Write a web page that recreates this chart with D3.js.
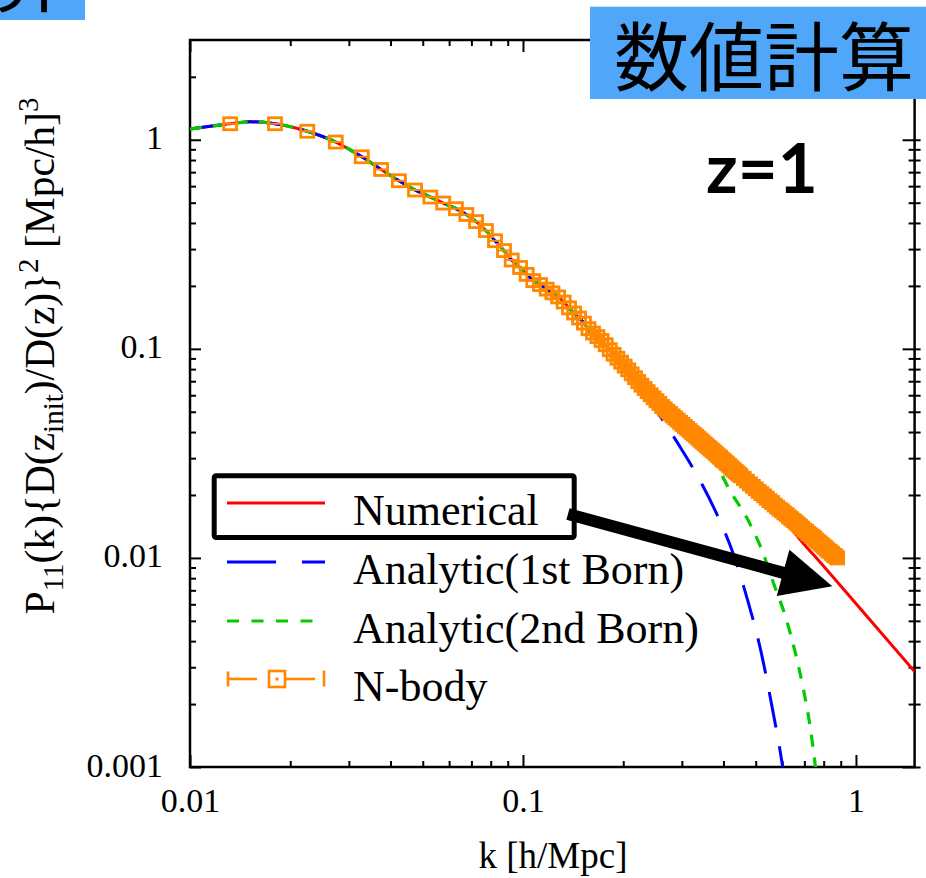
<!DOCTYPE html>
<html>
<head>
<meta charset="utf-8">
<script src="https://cdn.jsdelivr.net/npm/d3@7"></script>
<style>
  html, body { margin: 0; padding: 0; background: #fff; }
  svg { display: block; }
  @font-face {
    font-family: "JP Title";
    src: local("Noto Sans CJK JP Regular"), local("NotoSansCJKjp-Regular"), local("Noto Sans CJK JP");
    ascent-override: 90%;
    descent-override: 12%;
  }
</style>
</head>
<body>
<svg id="chart" width="926" height="878"></svg>
<script>
// ---- data: P11(k){D(z_init)/D(z)}^2 at z = 1 ----

// low-k range where the numerical result and both Born approximations coincide
const lowK = [0.0100, 0.0115, 0.0132, 0.0152, 0.0180, 0.0225, 0.0274, 0.0328, 0.0375, 0.0424,
              0.0474, 0.0527, 0.0576, 0.0629, 0.0676, 0.0723, 0.0774, 0.0824, 0.0877, 0.0925,
              0.0980, 0.1026, 0.1074, 0.1125, 0.1178, 0.1263, 0.1327, 0.1384, 0.1449, 0.1518,
              0.1589, 0.1683, 0.1763, 0.1866, 0.2066];
const lowP = [1.125, 1.160, 1.193, 1.219, 1.193, 1.098, 0.975, 0.829, 0.721, 0.637,
              0.575, 0.532, 0.498, 0.468, 0.439, 0.406, 0.368, 0.329, 0.295, 0.266,
              0.245, 0.227, 0.212, 0.203, 0.193, 0.180, 0.167, 0.155, 0.144, 0.134,
              0.122, 0.1135, 0.1055, 0.0945, 0.0795];

// Numerical
const numericalTailK = [0.2293, 0.2633, 0.3173, 0.3796, 0.4546, 0.5497, 0.7027, 0.7457, 1.028, 1.50];
const numericalTailP = [0.0657, 0.0525, 0.0405, 0.0316, 0.0243, 0.0185, 0.01150, 0.01035, 0.00574, 0.00286];

// Analytic (1st Born)
const born1TailK = [0.2293, 0.2633, 0.2996, 0.3401, 0.3817, 0.4280, 0.4722, 0.5176, 0.5594, 0.6024, 0.6077];
const born1TailP = [0.0622, 0.0455, 0.0330, 0.02344, 0.01625, 0.01046, 0.00632, 0.00361, 0.00195, 0.00100, 0.00091];

// Analytic (2nd Born)
const born2TailK = [0.2293, 0.2633, 0.3173, 0.3817, 0.4183, 0.4696, 0.5209, 0.5645, 0.6192, 0.6559, 0.6946, 0.7252, 0.7557, 0.7609];
const born2TailP = [0.0657, 0.0524, 0.0402, 0.02764, 0.0210, 0.0156, 0.01097, 0.00763, 0.00502, 0.00357, 0.002375, 0.001633, 0.00100, 0.00091];

// N-body
const nbodyK = [0.0132, 0.0180, 0.0225, 0.0274, 0.0328, 0.0375, 0.0424, 0.0474, 0.0527, 0.0576,
  0.0629, 0.0676, 0.0723, 0.0774, 0.0824, 0.0877, 0.0925, 0.0980, 0.1026, 0.1074, 0.1125, 0.1178,
  0.1226, 0.1275, 0.1325, 0.1375, 0.1424, 0.1474, 0.1524, 0.1573, 0.1623, 0.1673,
  0.1722, 0.1772, 0.1822, 0.1871, 0.1921, 0.1971, 0.2020, 0.2070, 0.2120, 0.2170,
  0.2219, 0.2269, 0.2319, 0.2368, 0.2418, 0.2468, 0.2517, 0.2567, 0.2617, 0.2666,
  0.2716, 0.2766, 0.2816, 0.2865, 0.2915, 0.2965, 0.3014, 0.3064,
  0.3113, 0.3163, 0.3213, 0.3263, 0.3312, 0.3362, 0.3411, 0.3461, 0.3511, 0.3561,
  0.3610, 0.3660, 0.3710, 0.3759, 0.3809, 0.3859, 0.3908, 0.3958, 0.4008, 0.4058,
  0.4107, 0.4157, 0.4207, 0.4256, 0.4306, 0.4356, 0.4405, 0.4455, 0.4505,
  0.4604, 0.4704, 0.4803, 0.4902, 0.5002,
  0.5101, 0.5201, 0.5300, 0.5399, 0.5499, 0.5598, 0.5698, 0.5797, 0.5896, 0.5996,
  0.6095, 0.6195, 0.6294, 0.6393, 0.6493, 0.6592, 0.6692, 0.6791, 0.6890, 0.6990,
  0.7089, 0.7189, 0.7288, 0.7387, 0.7487, 0.7586, 0.7686, 0.7785, 0.7884, 0.7984,
  0.8083, 0.8183, 0.8282, 0.8381, 0.8481, 0.8580, 0.8680, 0.8779];
const nbodyP = [1.193, 1.193, 1.098, 0.975, 0.829, 0.721, 0.637, 0.575, 0.532, 0.498,
  0.468, 0.439, 0.406, 0.368, 0.329, 0.295, 0.266, 0.245, 0.227, 0.212, 0.203, 0.193,
  0.1852, 0.1771, 0.1674, 0.1570, 0.1483, 0.1404, 0.1328, 0.1248, 0.1190, 0.1144,
  0.1096, 0.1046, 0.0990, 0.0942, 0.0901, 0.0863, 0.0827, 0.0794, 0.0759, 0.0728,
  0.0698, 0.0670, 0.0646, 0.0624, 0.0603, 0.0583, 0.0565, 0.0548, 0.0530, 0.0516,
  0.0503, 0.0491, 0.0478, 0.0467, 0.0456, 0.0445, 0.0435, 0.0425,
  0.0416, 0.0407, 0.0398, 0.0390, 0.0382, 0.0374, 0.0366, 0.0359, 0.0352, 0.0345,
  0.0338, 0.0332, 0.0326, 0.0320, 0.0314, 0.0308, 0.0303, 0.0297, 0.0292, 0.0287,
  0.0282, 0.0277, 0.0272, 0.0267, 0.0263, 0.0259, 0.0255, 0.0251, 0.0247,
  0.0240, 0.0233, 0.0226, 0.0220, 0.0214,
  0.0208, 0.0203, 0.0198, 0.0193, 0.0188, 0.0184, 0.0179, 0.0175, 0.0171, 0.0168,
  0.0164, 0.0161, 0.0157, 0.0154, 0.0151, 0.0148, 0.0145, 0.0142, 0.0139, 0.0136,
  0.0134, 0.0131, 0.0129, 0.0127, 0.0125, 0.0122, 0.0120, 0.0118, 0.0116, 0.0114,
  0.0112, 0.0110, 0.0108, 0.0107, 0.0105, 0.0103, 0.0102, 0.0100];

// axes
const xMajor = [0.01, 0.1, 1];
const xTickLabels = ["0.01", "0.1", "1"];
const xMinor = [0.02, 0.03, 0.04, 0.05, 0.06, 0.07, 0.08, 0.09, 0.2, 0.3, 0.4, 0.5, 0.6, 0.7, 0.8, 0.9];
const yMajor = [0.001, 0.01, 0.1, 1];
const yTickLabels = ["0.001", "0.01", "0.1", "1"];
const yMinor = [0.002, 0.003, 0.004, 0.005, 0.006, 0.007, 0.008, 0.009,
                0.02, 0.03, 0.04, 0.05, 0.06, 0.07, 0.08, 0.09,
                0.2, 0.3, 0.4, 0.5, 0.6, 0.7, 0.8, 0.9, 2];

const legendLabels = ["Numerical", "Analytic(1st Born)", "Analytic(2nd Born)", "N-body"];

// ---- drawing ----
const SERIF = '"Liberation Serif", "Times New Roman", Times, serif';
const CJK = '"JP Title", "Noto Sans CJK JP", "Noto Sans CJK SC", sans-serif';
const COLORS = { numerical: "#ff0000", born1: "#0000ff", born2: "#00cc00", nbody: "#ff8800" };

const svg = d3.select("#chart");
const plot = { left: 190, right: 914.6, top: 40, bottom: 767 };

const x = d3.scaleLog().domain([0.01, 1.5]).range([plot.left, plot.right]);
const y = d3.scaleLog().domain([0.001, 3]).range([plot.bottom, plot.top]);

svg.append("defs").append("clipPath").attr("id", "plotClip")
  .append("rect")
  .attr("x", plot.left).attr("y", plot.top)
  .attr("width", plot.right - plot.left).attr("height", plot.bottom - plot.top);

function styleAxis(g) {
  g.select(".domain").remove();
  g.selectAll(".tick line").attr("stroke", "#000").attr("stroke-width", 2);
  g.selectAll(".tick text").attr("font-family", SERIF).attr("font-size", 34).attr("fill", "#000");
}

// bottom
svg.append("g").attr("transform", `translate(0,${plot.bottom})`)
  .call(d3.axisBottom(x).tickValues(xMajor).tickSize(-12).tickFormat((d, i) => xTickLabels[i]))
  .call(styleAxis)
  .call(g => g.selectAll(".tick text").attr("y", 45).attr("dy", 0));
svg.append("g").attr("transform", `translate(0,${plot.bottom})`)
  .call(d3.axisBottom(x).tickValues(xMinor).tickSize(-6).tickFormat(""))
  .call(styleAxis);
// top
svg.append("g").attr("transform", `translate(0,${plot.top})`)
  .call(d3.axisTop(x).tickValues(xMajor).tickSize(-12).tickFormat(""))
  .call(styleAxis);
svg.append("g").attr("transform", `translate(0,${plot.top})`)
  .call(d3.axisTop(x).tickValues(xMinor).tickSize(-6).tickFormat(""))
  .call(styleAxis);
// left
svg.append("g").attr("transform", `translate(${plot.left},0)`)
  .call(d3.axisLeft(y).tickValues(yMajor).tickSize(-11).tickPadding(27).tickFormat((d, i) => yTickLabels[i]))
  .call(styleAxis)
  .call(g => g.selectAll(".tick text").attr("dy", 0).attr("y", 9));
svg.append("g").attr("transform", `translate(${plot.left},0)`)
  .call(d3.axisLeft(y).tickValues(yMinor).tickSize(-6).tickFormat(""))
  .call(styleAxis);
// right (ticks on both sides of the frame)
[[-12, yMajor], [6, yMajor], [-6, yMinor], [6, yMinor]].forEach(([size, vals]) => {
  svg.append("g").attr("transform", `translate(${plot.right},0)`)
    .call(d3.axisRight(y).tickValues(vals).tickSize(size).tickFormat(""))
    .call(styleAxis);
});

// frame
svg.append("rect")
  .attr("x", plot.left).attr("y", plot.top)
  .attr("width", plot.right - plot.left).attr("height", plot.bottom - plot.top)
  .attr("fill", "none").attr("stroke", "#000").attr("stroke-width", 2.5);

// axis titles
svg.append("text")
  .attr("x", 553).attr("y", 868).attr("text-anchor", "middle")
  .attr("font-family", SERIF).attr("font-size", 37).text("k [h/Mpc]");

const yTitle = svg.append("text")
  .attr("transform", "translate(54,356) rotate(-90)")
  .attr("text-anchor", "middle")
  .attr("font-family", SERIF).attr("font-size", 41.5);
yTitle.append("tspan").text("P");
yTitle.append("tspan").attr("font-size", 29).attr("dy", 9).text("11");
yTitle.append("tspan").attr("dy", -9).text("(k){D(z");
yTitle.append("tspan").attr("font-size", 29).attr("dy", 9).text("init");
yTitle.append("tspan").attr("dy", -9).text(")/D(z)}");
yTitle.append("tspan").attr("font-size", 29).attr("dy", -16).text("2");
yTitle.append("tspan").attr("dy", 16).text(" [Mpc/h]");
yTitle.append("tspan").attr("font-size", 29).attr("dy", -16).text("3");

// curves
const zip = (ks, ps) => ks.map((k, i) => [k, ps[i]]);
const numerical = zip(lowK.concat(numericalTailK), lowP.concat(numericalTailP));
const born1 = zip(lowK.concat(born1TailK), lowP.concat(born1TailP));
const born2 = zip(lowK.concat(born2TailK), lowP.concat(born2TailP));
const nbody = zip(nbodyK, nbodyP);

const line = d3.line().x(d => x(d[0])).y(d => y(d[1])).curve(d3.curveMonotoneX);
const curves = svg.append("g").attr("clip-path", "url(#plotClip)");

curves.append("path").datum(numerical).attr("d", line)
  .attr("fill", "none").attr("stroke", COLORS.numerical).attr("stroke-width", 3);
curves.append("path").datum(born1).attr("d", line)
  .attr("fill", "none").attr("stroke", COLORS.born1).attr("stroke-width", 3)
  .attr("stroke-dasharray", "36 19");
curves.append("path").datum(born2).attr("d", line)
  .attr("fill", "none").attr("stroke", COLORS.born2).attr("stroke-width", 3.2)
  .attr("stroke-dasharray", "12 11");

// N-body points: open squares with a bar through the centre
const pts = curves.append("g").selectAll("g").data(nbody).join("g")
  .attr("transform", d => `translate(${x(d[0])},${y(d[1])})`);
pts.append("rect").attr("x", -6.5).attr("y", -6).attr("width", 13).attr("height", 12)
  .attr("fill", "none").attr("stroke", COLORS.nbody).attr("stroke-width", 2.8);
pts.append("line").attr("x1", -7.5).attr("x2", 7.5).attr("y1", 0).attr("y2", 0)
  .attr("stroke", COLORS.nbody).attr("stroke-width", 2);

// legend
const legend = svg.append("g").attr("font-family", SERIF).attr("font-size", 44);
const rowY = [503, 562, 621, 679];
const sx0 = 227, sx1 = 325, textX = 353;
legendLabels.forEach((lab, i) => {
  legend.append("text").attr("x", textX).attr("y", rowY[i] + 22).text(lab);
});
legend.append("line").attr("x1", sx0).attr("x2", sx1).attr("y1", rowY[0]).attr("y2", rowY[0])
  .attr("stroke", COLORS.numerical).attr("stroke-width", 3);
legend.append("line").attr("x1", sx0).attr("x2", sx1).attr("y1", rowY[1]).attr("y2", rowY[1])
  .attr("stroke", COLORS.born1).attr("stroke-width", 3).attr("stroke-dasharray", "49 26");
legend.append("line").attr("x1", sx0).attr("x2", sx1).attr("y1", rowY[2]).attr("y2", rowY[2])
  .attr("stroke", COLORS.born2).attr("stroke-width", 3.2).attr("stroke-dasharray", "12 12.5");
const nb = legend.append("g").attr("stroke", COLORS.nbody).attr("stroke-width", 2.6).attr("fill", "none");
const ny = rowY[3];
nb.append("line").attr("x1", sx0).attr("x2", 257).attr("y1", ny).attr("y2", ny);
nb.append("line").attr("x1", 286).attr("x2", 315).attr("y1", ny).attr("y2", ny);
nb.append("line").attr("x1", sx0 + 1).attr("x2", sx0 + 1).attr("y1", ny - 7.5).attr("y2", ny + 7.5);
nb.append("line").attr("x1", sx1 - 1).attr("x2", sx1 - 1).attr("y1", ny - 8.5).attr("y2", ny + 7.5);
nb.append("rect").attr("x", 269).attr("y", ny - 8).attr("width", 16).attr("height", 16);
nb.append("rect").attr("x", 275.5).attr("y", ny - 1.5).attr("width", 3).attr("height", 3).attr("fill", COLORS.nbody).attr("stroke", "none");

// highlight box around the "Numerical" entry
svg.append("rect")
  .attr("x", 214.2).attr("y", 475.8).attr("width", 360).attr("height", 61.7).attr("rx", 2)
  .attr("fill", "none").attr("stroke", "#000").attr("stroke-width", 5);

// arrow from the legend entry to the numerical curve
const arrowFrom = [0.1365, 0.01622];
const arrowTo = [0.8488, 0.00732];
(function drawArrow() {
  const t = [x(arrowFrom[0]), y(arrowFrom[1])];
  const p = [x(arrowTo[0]), y(arrowTo[1])];
  const dx = p[0] - t[0], dy = p[1] - t[1];
  const len = Math.hypot(dx, dy);
  const u = [dx / len, dy / len], n = [-u[1], u[0]];
  const headL = 51, headW = 24;
  const b = [p[0] - u[0] * headL, p[1] - u[1] * headL];
  svg.append("line")
    .attr("x1", t[0]).attr("y1", t[1])
    .attr("x2", b[0] + u[0] * 4).attr("y2", b[1] + u[1] * 4)
    .attr("stroke", "#000").attr("stroke-width", 12);
  svg.append("path")
    .attr("d", `M${p[0]},${p[1]}L${b[0] + n[0] * headW},${b[1] + n[1] * headW}L${b[0] - n[0] * headW},${b[1] - n[1] * headW}Z`)
    .attr("fill", "#000");
})();

// redshift label
svg.append("text")
  .attr("x", 706).attr("y", 193)
  .attr("font-family", "Lato, 'Open Sans', sans-serif").attr("font-weight", 700).attr("font-size", 69)
  .text("z=1");

// title boxes
function titleBox(bx, by, label) {
  svg.append("rect").attr("x", bx).attr("y", by).attr("width", 341).attr("height", 92.3).attr("fill", "#50a6f8");
  svg.append("text")
    .attr("x", bx + 174).attr("y", by + 78.5)
    .attr("text-anchor", "middle")
    .attr("font-family", CJK).attr("font-size", 75).attr("fill", "#000")
    .text(label);
}
titleBox(-256, -72.3, "解析計算");
titleBox(590, 6.7, "数値計算");
</script>
</body>
</html>
